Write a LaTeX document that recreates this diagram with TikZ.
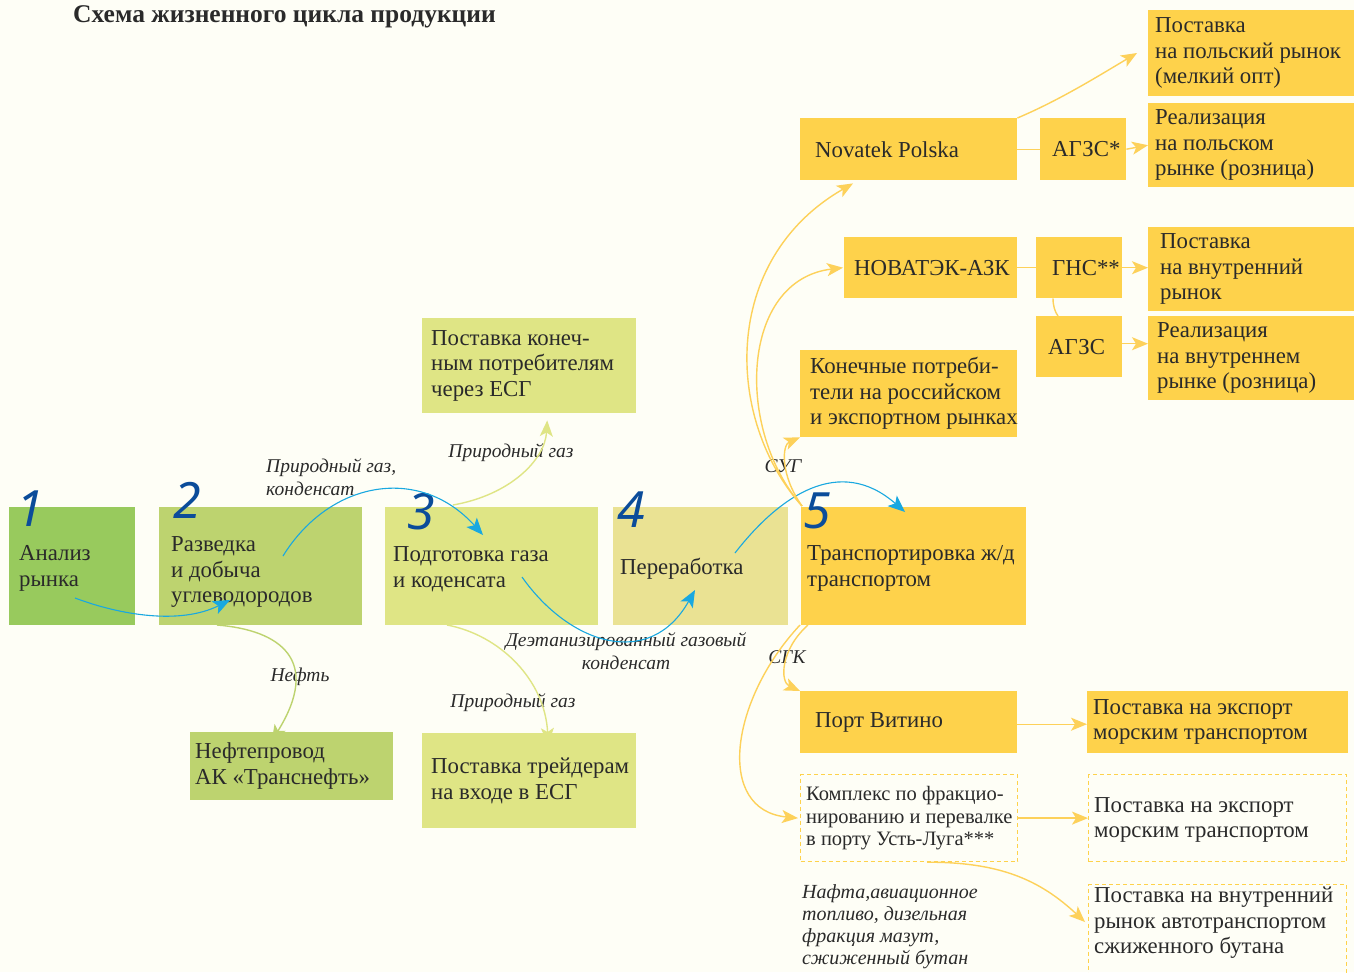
\documentclass[tikz,border=0pt]{standalone}
\usepackage{fontspec}
\setmainfont{Liberation Serif}
\newfontfamily\numfont{Noto Sans}
\usetikzlibrary{arrows.meta,positioning,calc}
\definecolor{bg}{HTML}{FEFEF6}
\definecolor{gA}{HTML}{98CA5D}
\definecolor{gB}{HTML}{BDD36F}
\definecolor{gC}{HTML}{DFE585}
\definecolor{gD}{HTML}{EAE293}
\definecolor{yel}{HTML}{FED24B}
\definecolor{yline}{HTML}{FDD15A}
\definecolor{blueA}{HTML}{19A8E0}
\definecolor{numblue}{HTML}{0B4C9A}
\definecolor{textc}{HTML}{2A2A2A}
\tikzset{
  box/.style={anchor=north west, inner sep=0pt, draw=none},
  dbox/.style={anchor=north west, inner sep=0pt, draw=yel, line width=1.2pt, dash pattern=on 4pt off 3pt},
  txt/.style={align=left, inner sep=0pt, anchor=west, text=textc, font=\fontsize{22.8}{25.5}\selectfont},
  stxt/.style={align=left, inner sep=0pt, anchor=west, text=textc, font=\fontsize{20.5}{22.5}\selectfont},
  lab/.style={inner sep=0pt, text=textc, font=\itshape\fontsize{19.5}{23}\selectfont},
  num/.style={inner sep=0pt, anchor=north west, text=numblue, text height=36pt, text depth=0pt, font=\numfont\itshape\fontsize{50}{50}\selectfont},
  barr/.style={draw=blueA, line width=1.1pt, -{Stealth[length=17pt,width=14pt,inset=4pt]}},
  yarr/.style={draw=yline, line width=1.4pt, -{Stealth[length=16pt,width=13pt,inset=4pt]}},
  yln/.style={draw=yline, line width=1.4pt},
  garrB/.style={draw=gB, line width=1.4pt, -{Stealth[length=16pt,width=13pt,inset=4pt]}},
  garrC/.style={draw=gC, line width=1.4pt, -{Stealth[length=16pt,width=13pt,inset=4pt]}},
}
\begin{document}
\begin{tikzpicture}[x=1pt,y=-1pt]
\useasboundingbox (0,0) rectangle (1354,972);
\fill[bg] (0,0) rectangle (1354,972);
\clip (0,0) rectangle (1354,972);

% title
\node[anchor=west, inner sep=0pt, text=textc, font=\bfseries\fontsize{25.5}{28}\selectfont] (title) at (73,17) {Схема жизненного цикла продукции};

% main chain boxes
\node[box, fill=gA, minimum width=126, minimum height=118] (b1) at (9,507) {};
\node[box, fill=gB, minimum width=203, minimum height=118] (b2) at (159,507) {};
\node[box, fill=gC, minimum width=213, minimum height=118] (b3) at (385,507) {};
\node[box, fill=gD, minimum width=175, minimum height=118] (b4) at (613,507) {};
\node[box, fill=yel, minimum width=225, minimum height=118] (b5) at (801,507) {};

\node[txt] (b1t) at ([xshift=10pt,yshift=-2pt]b1.west) {Анализ\\рынка};
\node[txt] (b2t) at ([xshift=12pt,yshift=-6pt]b2.west) {Разведка\\и добыча\\углеводородов};
\node[txt] (b3t) at ([xshift=8pt,yshift=-3pt]b3.west) {Подготовка газа\\и коденсата};
\node[txt] (b4t) at ([xshift=7pt,yshift=-3pt]b4.west) {Переработка};
\node[txt] (b5t) at ([xshift=6pt,yshift=-2pt]b5.west) {Транспортировка ж/д\\транспортом};

\node[num] (n1) at (16,490) {1};
\node[num] (n2) at (173,482) {2};
\node[num] (n3) at (407,493) {3};
\node[num] (n4) at (617,491) {4};
\node[num] (n5) at (803,492) {5};

% green side boxes
\node[box, fill=gC, minimum width=214, minimum height=95] (esg1) at (422,318) {};
\node[txt] (esg1t) at ([xshift=9pt]esg1.west) {Поставка конеч-\\ным потребителям\\через ЕСГ};
\node[box, fill=gB, minimum width=203, minimum height=68] (pipe) at (190,732) {};
\node[txt] (pipet) at ([xshift=5pt]pipe.west) {Нефтепровод\\АК «Транснефть»};
\node[box, fill=gC, minimum width=214, minimum height=95] (esg2) at (422,733) {};
\node[txt] (esg2t) at ([xshift=9pt]esg2.west) {Поставка трейдерам\\на входе в ЕСГ};

% yellow boxes
\node[box, fill=yel, minimum width=217, minimum height=62] (np) at (800,118) {};
\node[txt] (npt) at ([xshift=15pt]np.west) {Novatek Polska};
\node[box, fill=yel, minimum width=86, minimum height=62] (agzs1) at (1040,118) {};
\node[txt] (agzs1t) at ([xshift=12pt]agzs1.west) {АГЗС*};
\node[box, fill=yel, minimum width=206, minimum height=86] (pl1) at (1148,10) {};
\node[txt] (pl1t) at ([xshift=7pt]pl1.west) {Поставка\\на польский рынок\\(мелкий опт)};
\node[box, fill=yel, minimum width=206, minimum height=84] (pl2) at (1148,103) {};
\node[txt] (pl2t) at ([xshift=7pt]pl2.west) {Реализация\\на польском\\рынке (розница)};

\node[box, fill=yel, minimum width=173, minimum height=61] (azk) at (844,237) {};
\node[txt] (azkt) at ([xshift=10pt]azk.west) {НОВАТЭК-АЗК};
\node[box, fill=yel, minimum width=86, minimum height=61] (gns) at (1036,237) {};
\node[txt] (gnst) at ([xshift=16pt]gns.west) {ГНС**};
\node[box, fill=yel, minimum width=86, minimum height=61] (agzs2) at (1036,316) {};
\node[txt] (agzs2t) at ([xshift=12pt]agzs2.west) {АГЗС};
\node[box, fill=yel, minimum width=206, minimum height=84] (ru1) at (1148,227) {};
\node[txt] (ru1t) at ([xshift=12pt]ru1.west) {Поставка\\на внутренний\\рынок};
\node[box, fill=yel, minimum width=206, minimum height=84] (ru2) at (1148,316) {};
\node[txt] (ru2t) at ([xshift=9pt]ru2.west) {Реализация\\на внутреннем\\рынке (розница)};

\node[box, fill=yel, minimum width=217, minimum height=87] (cons) at (800,350) {};
\node[txt] (const) at ([xshift=10pt]cons.west) {Конечные потреби-\\тели на российском\\и экспортном рынках};

\node[box, fill=yel, minimum width=217, minimum height=62] (vit) at (800,691) {};
\node[txt] (vitt) at ([xshift=15pt]vit.west) {Порт Витино};
\node[box, fill=yel, minimum width=261, minimum height=62] (exp1) at (1087,691) {};
\node[txt] (exp1t) at ([xshift=6pt]exp1.west) {Поставка на экспорт\\морским транспортом};

\node[dbox, minimum width=217, minimum height=87] (ul) at (800,774) {};
\node[stxt] (ult) at ([xshift=6pt]ul.west) {Комплекс по фракцио-\\нированию и перевалке\\в порту Усть-Луга***};
\node[dbox, minimum width=258, minimum height=87] (exp2) at (1088,774) {};
\node[txt] (exp2t) at ([xshift=6pt,yshift=-2pt]exp2.west) {Поставка на экспорт\\морским транспортом};
\node[dbox, minimum width=258, minimum height=110] (but) at (1088,884) {};
\node[txt, anchor=north west] (butt) at (1094,887) {Поставка на внутренний\\рынок автотранспортом\\сжиженного бутана};

% labels
\node[lab, anchor=west, align=left] (l1) at (266,477) {Природный газ,\\конденсат};
\node[lab] (l2) at (511,453) {Природный газ};
\node[lab, align=center] (l3) at (626,651) {Деэтанизированный газовый\\конденсат};
\node[lab] (l4) at (300,677) {Нефть};
\node[lab] (l5) at (513,703) {Природный газ};
\node[lab] (l6) at (783,466) {СУГ};
\node[lab] (l7) at (787,657) {СГК};
\node[lab, anchor=north west, align=left, font=\itshape\fontsize{20}{22}\selectfont] (l8) at (802,884) {Нафта,авиационное\\топливо, дизельная\\фракция мазут,\\сжиженный бутан};

% coordinates for connector ends
\coordinate (c1s) at (75,598);  \coordinate (c1e) at (230,600);
\coordinate (c2s) at (283,556); \coordinate (c2e) at (483,535);
\coordinate (c3s) at (522,577); \coordinate (c3e) at (695,590);
\coordinate (c4s) at (735,553); \coordinate (c4e) at (905,512);

% blue flow
\draw[barr] (c1s) .. controls (120,615) and (180,625) .. (c1e);
\draw[barr] (c2s) .. controls (330,480) and (420,465) .. (c2e);
\draw[barr] (c3s) .. controls (570,645) and (650,670) .. (c3e);
\draw[barr] (c4s) .. controls (780,495) and (840,455) .. (c4e);

% green flows
\draw[garrB] (217,625) .. controls (280,630) and (322,660) .. ([shift={(-20pt,-9pt)}]pipe.north);
\draw[garrC] (447,625) .. controls (500,635) and (545,680) .. ([shift={(19pt,-11pt)}]esg2.north);
\draw[garrC] (453,505) .. controls (510,495) and (545,460) .. ([shift={(18pt,-7pt)}]esg1.south);

% yellow flows from 5
\coordinate (t5) at (802,506);
\draw[yarr] (t5) .. controls (725,420) and (720,260) .. ([shift={(53pt,-3pt)}]np.south west);
\draw[yarr] (t5) .. controls (735,430) and (740,280) .. ([xshift=-1pt]azk.west);
\draw[yarr] (t5) .. controls (780,475) and (782,445) .. (cons.south west);
\draw[yarr] (808,625) .. controls (780,650) and (780,682) .. (vit.north west);
\draw[yarr] (800,625) .. controls (730,700) and (715,810) .. ([xshift=-2pt]ul.west);

% right side
\draw[yarr] (np.north east) .. controls (1060,100) and (1100,75) .. (1137,53);
\draw[yln] (np.east) -- (agzs1.west);
\draw[yarr] (agzs1.east) -- (pl2.west);
\draw[yln] (azk.east) -- (gns.west);
\draw[yarr] (gns.east) -- (gns.east -| ru1.west);
\draw[yln] ([xshift=17pt]gns.south west) .. controls (1053,306) and (1055,312) .. ([xshift=22pt]agzs2.north west);
\draw[yarr] ([yshift=3pt]agzs2.east) -- ([yshift=3pt]agzs2.east -| ru2.west);
\draw[yarr] ([yshift=-2pt]vit.east) -- ([yshift=-2pt]vit.east -| exp1.west);
\draw[yarr] (ul.east) -- (ul.east -| exp2.west);
\draw[yarr] ([xshift=18pt]ul.south) .. controls (1000,862) and (1040,880) .. (1085,922);
\end{tikzpicture}
\end{document}
